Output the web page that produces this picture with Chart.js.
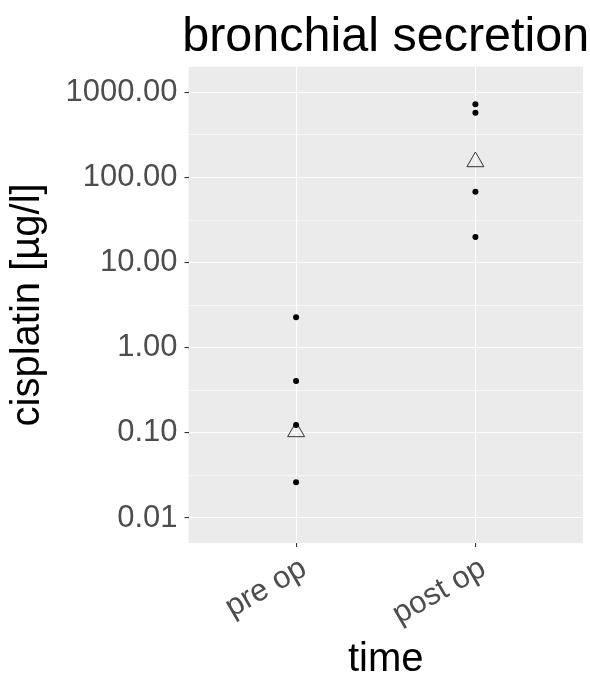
<!DOCTYPE html>
<html>
<head>
<meta charset="utf-8">
<script src="https://cdn.jsdelivr.net/npm/chart.js@4/dist/chart.umd.min.js"></script>
<style>
  html, body { margin: 0; padding: 0; background: #ffffff; }
  #wrap { width: 590px; height: 677px; }
</style>
</head>
<body>
<div id="wrap"><canvas id="c" width="590" height="677"></canvas></div>
<script>
// Cisplatin concentration in bronchial secretion, before and after surgery
const categories = ['pre op', 'post op'];
const preOp = [2.28, 0.407, 0.124, 0.0263];
const postOp = [725, 577, 68.1, 20.0];
const groupMeans = [0.103, 153];
const yTickValues = [0.01, 0.1, 1, 10, 100, 1000];
const yMinorValues = [0.0316, 0.316, 3.16, 31.6, 316];

const FONT = "'Liberation Sans', Arial, Helvetica, sans-serif";
const TITLE = 'bronchial secretion';

const isMajor = v => yTickValues.some(t => Math.abs(t - v) / t < 1e-6);

const points = [];
preOp.forEach(v => points.push({ x: 1, y: v }));
postOp.forEach(v => points.push({ x: 2, y: v }));
const meanPoints = groupMeans.map((v, i) => ({ x: i + 1, y: v }));

// grey panel behind the grid, and the centred plot title
const panelPlugin = {
  id: 'panel',
  beforeDraw(chart) {
    const { ctx, chartArea: a } = chart;
    ctx.save();
    ctx.fillStyle = '#EBEBEB';
    ctx.fillRect(a.left, a.top, a.right - a.left, a.bottom - a.top);
    ctx.restore();
  },
  afterDraw(chart) {
    const { ctx, chartArea: a } = chart;
    ctx.save();
    ctx.fillStyle = '#000000';
    ctx.font = '48.5px ' + FONT;
    ctx.textAlign = 'center';
    ctx.textBaseline = 'alphabetic';
    ctx.fillText(TITLE, (a.left + a.right) / 2, 51);
    ctx.restore();
  }
};

new Chart(document.getElementById('c'), {
  type: 'scatter',
  data: {
    datasets: [
      {
        label: 'values',
        data: points,
        pointStyle: 'circle',
        pointRadius: 3,
        pointHoverRadius: 3,
        backgroundColor: '#000000',
        borderColor: '#000000',
        borderWidth: 0
      },
      {
        label: 'mean',
        data: meanPoints,
        pointStyle: 'triangle',
        pointRadius: 9.8,
        pointHoverRadius: 9.8,
        backgroundColor: 'rgba(0,0,0,0)',
        borderColor: '#333333',
        borderWidth: 1
      }
    ]
  },
  options: {
    responsive: false,
    animation: false,
    events: [],
    layout: { autoPadding: false, padding: { top: 66.7, right: 7, bottom: 0, left: 0 } },
    plugins: {
      legend: { display: false },
      tooltip: { enabled: false },
      title: { display: false }
    },
    scales: {
      x: {
        type: 'linear',
        min: 0.4,
        max: 2.6,
        afterBuildTicks(scale) {
          scale.ticks = categories.map((c, i) => ({ value: i + 1 }));
        },
        afterFit(scale) { scale.height = 134; },
        ticks: {
          autoSkip: false,
          minRotation: 30,
          maxRotation: 30,
          padding: 3,
          labelOffset: 8,
          color: '#4D4D4D',
          font: { family: FONT, size: 31 },
          callback: v => categories[Math.round(v) - 1] || ''
        },
        grid: {
          color: '#FFFFFF',
          lineWidth: 1.1,
          tickColor: '#333333',
          tickLength: 4,
          drawOnChartArea: true
        },
        border: { display: false },
        title: {
          display: true,
          text: 'time',
          color: '#000000',
          font: { family: FONT, size: 40, lineHeight: 1 },
          padding: { top: 0, bottom: -3 }
        }
      },
      y: {
        type: 'logarithmic',
        min: 0.00508,
        max: 2004,
        afterBuildTicks(scale) {
          const all = yTickValues.concat(yMinorValues).sort((a, b) => a - b);
          scale.ticks = all.map(v => ({ value: v, major: isMajor(v) }));
        },
        afterFit(scale) { scale.width = 188.5; },
        ticks: {
          autoSkip: false,
          padding: 7,
          color: '#4D4D4D',
          font: { family: FONT, size: 31 },
          callback: v => isMajor(v) ? Number(v).toFixed(2) : ''
        },
        grid: {
          color: '#FFFFFF',
          lineWidth: ctx => (ctx.tick && isMajor(ctx.tick.value)) ? 1.1 : 0.55,
          tickColor: ctx => (ctx.tick && isMajor(ctx.tick.value)) ? '#333333' : 'rgba(0,0,0,0)',
          tickLength: 4
        },
        border: { display: false },
        title: {
          display: true,
          text: 'cisplatin [µg/l]',
          color: '#000000',
          font: { family: FONT, size: 40, lineHeight: 1 },
          padding: { top: 8, bottom: 0 }
        }
      }
    }
  },
  plugins: [panelPlugin]
});
</script>
</body>
</html>
